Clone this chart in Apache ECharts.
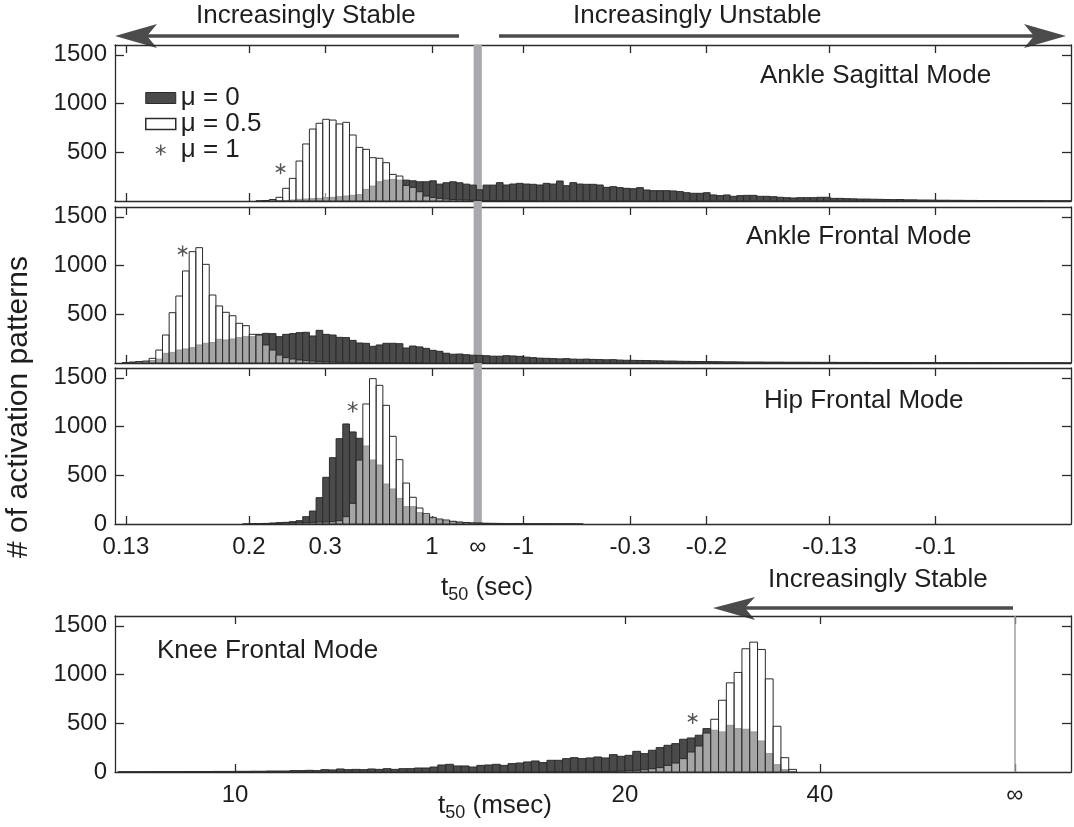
<!DOCTYPE html>
<html>
<head>
    <meta charset="utf-8"/>
    <title>t50 histograms</title>
    <style>
        html, body { margin: 0; padding: 0; background: #fff; }
        #main { width: 1074px; height: 827px; }
    </style>
</head>
<body>
<div id="main"></div>
<script src="https://cdn.jsdelivr.net/npm/echarts@6.0.0/dist/echarts.min.js"></script>
<script>
    // top three panels: x axis is linear in -1/t50 (1/s), equal-width bins
    var secBinWidth = 0.146;
    var secBinShift = -0.03;
    var secTickT = [0.13, 0.2, 0.3, 1, Infinity, -1, -0.3, -0.2, -0.13, -0.1];
    var secTickLabels = ['0.13', '0.2', '0.3', '1', '∞', '-1', '-0.3', '-0.2', '-0.13', '-0.1'];
    // knee panel: x axis is linear in -1000/t50 (t50 in msec), bins of 1
    var msTickT = [10, 20, 40, Infinity];
    var msTickLabels = ['10', '20', '40', '∞'];

    var yTicksUpper = [500, 1000, 1500];
    var yTicksLower = [0, 500, 1000, 1500];

    var panelNames = ['Ankle Sagittal Mode', 'Ankle Frontal Mode', 'Hip Frontal Mode', 'Knee Frontal Mode'];
    var seriesNames = ['μ = 0', 'μ = 0.5', 'μ = 1'];

    // counts per bin, first bin index given by *Start
    var sagStart = -33;
    var sagMu0 = [0, 1, 2, 3, 5, 10, 17, 20, 24, 27,
        34, 37, 44, 51, 58, 65, 119, 153, 197, 214,
        221, 214, 214, 207, 197, 197, 207, 173, 187, 197,
        187, 173, 163, 115, 163, 163, 188, 164, 174, 181,
        174, 171, 164, 181, 174, 205, 157, 188, 174, 171,
        171, 164, 140, 147, 137, 130, 126, 137, 113, 106,
        106, 106, 103, 96, 85, 79, 79, 85, 62, 55,
        62, 48, 55, 58, 58, 48, 48, 44, 38, 34,
        31, 34, 34, 34, 38, 38, 27, 27, 24, 22,
        20, 20, 18, 17, 15, 14, 15, 12, 12, 10,
        10, 9, 8, 8, 7, 7, 6, 6, 5, 5,
        5, 4, 4, 4, 3, 3, 3, 3, 2, 2, 2, 2];
    var sagMu05 = [2, 5, 15, 38, 130, 232, 410, 585, 738, 797,
        838, 830, 790, 807, 677, 550, 530, 444, 438, 393,
        273, 256, 160, 140, 95, 51, 37, 27, 20, 15,
        12, 10, 8, 6, 5, 4, 3, 2, 2, 1, 1, 1];

    var afStart = -53;
    var afMu0 = [3, 8, 12, 15, 25, 40, 99, 109, 133, 144,
        157, 185, 202, 209, 243, 236, 246, 260, 270, 270,
        294, 304, 301, 270, 294, 301, 311, 315, 277, 335,
        294, 287, 263, 260, 232, 205, 202, 171, 185, 202,
        202, 198, 154, 174, 165, 150, 130, 120, 100, 90,
        92, 85, 80, 78, 75, 70, 70, 75, 72, 68,
        60, 55, 50, 48, 45, 42, 45, 40, 38, 40,
        37, 35, 33, 34, 30, 28, 27, 26, 25, 23,
        22, 20, 20, 18, 17, 16, 15, 15, 14, 13,
        12, 12, 11, 10, 10, 10, 9, 9, 9, 8,
        8, 8, 8, 7, 7, 7, 7, 6, 6, 6,
        6, 6, 5, 5, 5, 5, 5, 5, 4, 4,
        4, 4, 4, 4, 4, 3, 3, 3, 3, 3,
        3, 3, 3, 3, 2, 2, 2, 2, 2, 2, 2, 2];
    var afMu05 = [3, 8, 14, 20, 48, 133, 287, 516, 687, 944,
        1142, 1183, 1012, 697, 585, 520, 485, 407, 383, 294,
        287, 185, 133, 82, 55, 41, 31, 24, 20, 16,
        13, 11, 9, 8, 7, 6, 5, 4, 4, 3,
        3, 2, 2, 1, 1];

    var hipStart = -35;
    var hipMu0 = [1, 2, 4, 6, 10, 14, 17, 24, 34, 75,
        133, 270, 479, 680, 875, 1026, 944, 879, 800, 656,
        605, 410, 359, 263, 178, 178, 116, 92, 55, 41,
        31, 24, 17, 14, 10, 10, 8, 7, 6, 5,
        5, 4, 4, 3, 3, 3, 2, 2, 2, 2, 1];
    var hipMu05 = [0, 2, 3, 4, 5, 7, 10, 10, 14, 14,
        17, 20, 20, 24, 34, 75, 212, 656, 1231, 1491,
        1422, 1217, 899, 660, 420, 274, 164, 106, 68, 51,
        41, 28, 20, 15, 10, 7, 5, 4, 3, 2, 2, 1];

    var kneeStart = -115;
    var kneeMu0 = [3, 3, 3, 3, 4, 4, 4, 4, 5, 5,
        5, 5, 6, 6, 6, 7, 7, 8, 8, 10,
        10, 10, 14, 14, 17, 14, 24, 21, 31, 24,
        27, 24, 31, 27, 34, 27, 34, 34, 41, 41,
        51, 72, 79, 62, 62, 51, 68, 72, 79, 68,
        86, 92, 103, 113, 96, 120, 120, 137, 147, 137,
        144, 154, 144, 178, 161, 171, 212, 188, 223, 250,
        274, 291, 336, 349, 377, 445, 428, 411, 479, 445,
        438, 411, 318, 188, 75, 24, 7];
    var kneeMu05Start = -60;
    var kneeMu05 = [1, 1, 1, 2, 2, 3, 4, 5, 7, 10,
        14, 17, 24, 34, 45, 68, 92, 137, 205, 267,
        400, 541, 736, 914, 1021, 1264, 1332, 1257, 955, 469,
        147, 27];

    // mu = 1 markers: t50 and the height the asterisk sits at
    var mu1T50Sec = [0.232, 0.155, 0.366];
    var mu1HeightSec = [330, 1150, 1200];
    var mu1T50Msec = 24.2;
    var mu1HeightMsec = 549;

    var FONT = '"Liberation Sans", Arial, sans-serif';
    var EDGE = '#2b2b2b';
    var DARK = '#4a4a4a';
    var TEXT = '#1e1e1e';
    var ARROW = '#4b4b4b';

    var secMin = -7.93, secMax = 12.97;
    var msMin = -115.4, msMax = 7.2;
    var gridTops = [45, 207, 368, 616];
    var gridH = 156;

    var secTickPos = secTickT.map(function (t) { return -1 / t; });
    var msTickPos = msTickT.map(function (t) { return -1000 / t; });

    function secBins(start, counts) {
        return counts.map(function (c, i) {
            var x0 = secBinShift + (start + i) * secBinWidth;
            return [x0, x0 + secBinWidth, c];
        });
    }

    function msBins(start, counts) {
        return counts.map(function (c, i) {
            return [start + i, start + i + 1, c];
        });
    }

    function asteriskPath() {
        var d = '';
        [90, 30, 150].forEach(function (deg) {
            var a = deg * Math.PI / 180, c = Math.cos(a), s = Math.sin(a), r = 10, w = 1.3;
            var pts = [[r * c - w * s, r * s + w * c], [r * c + w * s, r * s - w * c],
                [-r * c + w * s, -r * s - w * c], [-r * c - w * s, -r * s + w * c]];
            d += 'M' + pts.map(function (p) {
                return (p[0] + 10).toFixed(2) + ',' + (p[1] + 10).toFixed(2);
            }).join('L') + 'Z';
        });
        return 'path://' + d;
    }
    var ASTERISK = asteriskPath();

    function histRender(fill) {
        return function (params, api) {
            var h = api.value(2);
            if (!h) return null;
            var a = api.coord([api.value(0), h]);
            var b = api.coord([api.value(1), 0]);
            return {
                type: 'rect',
                shape: {x: a[0], y: a[1], width: b[0] - a[0], height: b[1] - a[1]},
                style: {fill: fill, stroke: EDGE, lineWidth: 1}
            };
        };
    }

    function labelFormatter(pos, labels) {
        return function (val) {
            for (var i = 0; i < pos.length; i++) {
                if (Math.abs(pos[i] - val) < 1e-6) return labels[i];
            }
            return '';
        };
    }

    var grids = [], xAxes = [], yAxes = [], series = [];

    for (var g = 0; g < 4; g++) {
        var isMs = g === 3;
        grids.push({left: 115, top: gridTops[g], width: 956, height: gridH, outerBoundsMode: 'none'});
        var ticks = isMs ? msTickPos : secTickPos;
        var base = {
            gridIndex: g, type: 'value',
            min: isMs ? msMin : secMin, max: isMs ? msMax : secMax,
            splitLine: {show: false},
            axisLine: {show: true, onZero: false, lineStyle: {color: EDGE, width: 1.3}},
            axisTick: {show: true, inside: true, length: 8, customValues: ticks,
                lineStyle: {color: EDGE, width: 1.3}}
        };
        xAxes.push(Object.assign({}, base, {
            position: 'bottom',
            axisLabel: {
                show: g >= 2, customValues: ticks,
                formatter: labelFormatter(ticks, isMs ? msTickLabels : secTickLabels),
                fontSize: 24, color: TEXT, fontFamily: FONT, margin: 11
            }
        }));
        xAxes.push(Object.assign({}, base, {position: 'top', axisLabel: {show: false}}));

        var yt = g >= 2 ? yTicksLower : yTicksUpper;
        var ybase = {
            gridIndex: g, type: 'value', min: 0, max: 1600,
            splitLine: {show: false},
            axisLine: {show: true, onZero: false, lineStyle: {color: EDGE, width: 1.3}},
            axisTick: {show: true, inside: true, length: 9, customValues: yTicksUpper,
                lineStyle: {color: EDGE, width: 1.3}}
        };
        yAxes.push(Object.assign({}, ybase, {
            position: 'left',
            axisLabel: {show: true, customValues: yt, fontSize: 24, color: TEXT, fontFamily: FONT, margin: 8,
                formatter: function (v) { return v > 1500 ? '' : String(v); }}
        }));
        yAxes.push(Object.assign({}, ybase, {position: 'right', axisLabel: {show: false}}));
    }

    // overlay grid spanning the three upper panels, for the grey band at t50 = infinity
    grids.push({left: 115, top: gridTops[0], width: 956, height: gridTops[2] + gridH - gridTops[0], outerBoundsMode: 'none'});
    xAxes.push({gridIndex: 4, type: 'value', min: secMin, max: secMax, show: false});
    yAxes.push({gridIndex: 4, type: 'value', min: 0, max: 1, show: false});

    series.push({
        type: 'custom', xAxisIndex: 8, yAxisIndex: 8, silent: true,
        data: [[-0.09, 0.09]],
        encode: {x: [0, 1]},
        renderItem: function (params, api) {
            var a = api.coord([api.value(0), 1]);
            var b = api.coord([api.value(1), 0]);
            return {type: 'rect', shape: {x: a[0], y: a[1], width: b[0] - a[0], height: b[1] - a[1]},
                style: {fill: '#a9a9ad'}};
        }
    });

    var histData = [
        [secBins(sagStart, sagMu0), secBins(sagStart, sagMu05)],
        [secBins(afStart, afMu0), secBins(afStart, afMu05)],
        [secBins(hipStart, hipMu0), secBins(hipStart, hipMu05)],
        [msBins(kneeStart, kneeMu0), msBins(kneeMu05Start, kneeMu05)]
    ];

    histData.forEach(function (pair, g) {
        var dark = {
            name: seriesNames[0], type: 'custom', xAxisIndex: 2 * g, yAxisIndex: 2 * g,
            clip: true, data: pair[0], encode: {x: [0, 1], y: 2},
            itemStyle: {color: DARK},
            renderItem: histRender(DARK)
        };
        if (g === 3) {
            dark.markLine = {
                silent: true, symbol: 'none', label: {show: false},
                lineStyle: {color: '#a0a0a0', width: 1.5, type: 'solid'},
                data: [{xAxis: 0}]
            };
        }
        series.push(dark);
        series.push({
            name: seriesNames[1], type: 'custom', xAxisIndex: 2 * g, yAxisIndex: 2 * g,
            clip: true, data: pair[1], encode: {x: [0, 1], y: 2},
            itemStyle: {color: '#ffffff'},
            renderItem: histRender('rgba(255,255,255,0.5)')
        });
        var star = g < 3 ? [-1 / mu1T50Sec[g], mu1HeightSec[g]] : [-1000 / mu1T50Msec, mu1HeightMsec];
        series.push({
            name: seriesNames[2], type: 'scatter', xAxisIndex: 2 * g, yAxisIndex: 2 * g,
            symbol: ASTERISK, symbolSize: 11, symbolKeepAspect: true,
            itemStyle: {color: '#2a2a2a'},
            data: [star]
        });
    });

    var titles = [
        {text: panelNames[0], left: 760, top: 63},
        {text: panelNames[1], left: 746, top: 224},
        {text: panelNames[2], left: 764, top: 388},
        {text: panelNames[3], left: 157, top: 638},
        {text: 'Increasingly Stable', left: 196, top: 3},
        {text: 'Increasingly Unstable', left: 573, top: 3},
        {text: 'Increasingly Stable', left: 768, top: 567},
        {text: '{t|t}{s|50}{t| (sec)}', left: 441, top: 572},
        {text: '{t|t}{s|50}{t| (msec)}', left: 438, top: 790}
    ].map(function (t) {
        return {
            text: t.text, left: t.left, top: t.top, padding: 0,
            textStyle: {
                fontSize: 26, fontWeight: 'normal', color: TEXT, fontFamily: FONT,
                rich: {
                    t: {fontSize: 26, lineHeight: 32, color: TEXT, fontFamily: FONT, verticalAlign: 'middle'},
                    s: {fontSize: 18, lineHeight: 18, color: TEXT, fontFamily: FONT, padding: [14, 0, 0, 0], verticalAlign: 'middle'}
                }
            }
        };
    });

    var option = {
        backgroundColor: '#ffffff',
        animation: false,
        title: titles,
        legend: {
            orient: 'vertical', left: 145, top: 85, padding: 0,
            itemWidth: 30, itemHeight: 11, itemGap: 0,
            textStyle: {fontSize: 26, lineHeight: 23, color: TEXT, fontFamily: FONT},
            data: [
                {name: seriesNames[0], icon: 'rect', itemStyle: {color: DARK, borderColor: EDGE, borderWidth: 1}},
                {name: seriesNames[1], icon: 'rect', itemStyle: {color: '#ffffff', borderColor: EDGE, borderWidth: 1.5}},
                {name: seriesNames[2], icon: ASTERISK, itemStyle: {color: '#2a2a2a'}}
            ]
        },
        grid: grids,
        xAxis: xAxes,
        yAxis: yAxes,
        series: series,
        graphic: [
            {type: 'text', x: 19, y: 407, rotation: Math.PI / 2,
                style: {text: '# of activation patterns', font: '30px ' + FONT, fill: TEXT,
                    textAlign: 'center', textVerticalAlign: 'middle'}},
            {type: 'line', shape: {x1: 147, y1: 36, x2: 459, y2: 36}, style: {stroke: ARROW, lineWidth: 3.5}},
            {type: 'polygon', shape: {points: [[115, 36], [157, 24], [147, 36], [157, 48]]}, style: {fill: ARROW}},
            {type: 'line', shape: {x1: 499, y1: 36, x2: 1034, y2: 36}, style: {stroke: ARROW, lineWidth: 3.5}},
            {type: 'polygon', shape: {points: [[1066, 36], [1024, 24], [1034, 36], [1024, 48]]}, style: {fill: ARROW}},
            {type: 'line', shape: {x1: 745, y1: 608, x2: 1013, y2: 608}, style: {stroke: ARROW, lineWidth: 3.5}},
            {type: 'polygon', shape: {points: [[713, 608], [755, 597], [745, 608], [755, 620]]}, style: {fill: ARROW}}
        ]
    };

    var chart = echarts.init(document.getElementById('main'));
    chart.setOption(option);
    window.onresize = function () {
        chart.resize();
    };
</script>
</body>
</html>
